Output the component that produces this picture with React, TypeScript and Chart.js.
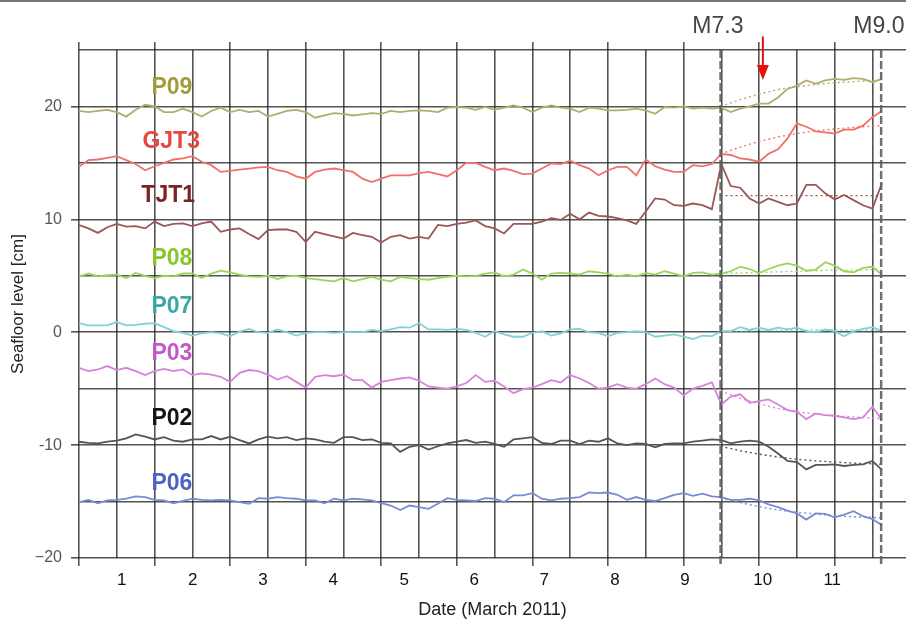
import React, { useEffect, useRef } from 'react';
import { Chart, registerables } from 'chart.js';

Chart.register(...registerables);

// ---- data (days since 1 March 2011 00:00, sampled every 3 h) ----
const SAMPLE_STEP_DAYS = 0.125;

const P09 = [
  19.6, 19.5, 19.6, 19.7, 19.5, 19.1, 19.7, 20.15, 20.0, 19.5, 19.5, 19.8, 19.5, 19.1, 19.6, 19.9, 19.5, 19.7, 19.5, 19.6, 19.1, 19.35, 19.6, 19.7, 19.5, 19.0, 19.2, 19.4, 19.35,
  19.2, 19.3, 19.4, 19.35, 19.6, 19.5, 19.6, 19.65, 19.6, 19.5, 19.9, 19.95, 19.9, 19.7, 19.95, 19.7, 19.9, 20.1, 19.9, 19.5, 19.9, 20.1, 19.9, 19.8, 19.5, 19.9, 19.8, 19.65,
  19.65, 19.7, 19.8, 19.65, 19.35, 19.95, 19.9, 20.0, 19.8, 19.9, 19.8, 19.9, 19.5, 19.8, 20.0, 20.25, 20.25, 20.8, 21.55, 21.85, 22.3, 22.0, 22.3, 22.45, 22.35, 22.5, 22.45, 22.15, 22.45,
];
const GJT3 = [
  14.65, 15.25, 15.3, 15.45, 15.6, 15.25, 14.9, 14.35, 14.7, 15.0, 15.3, 15.4, 15.6, 15.1, 14.8, 14.2, 14.3, 14.4, 14.5, 14.6, 14.65, 14.35, 14.2, 13.8, 13.6, 14.2, 14.4, 14.5, 14.35,
  14.2, 13.6, 13.3, 13.6, 13.9, 13.9, 13.9, 14.1, 14.2, 14.0, 13.8, 14.35, 15.0, 15.0, 14.65, 14.35, 14.5, 14.3, 14.0, 14.05, 14.5, 14.95, 14.9, 15.2, 14.8, 14.5, 13.9, 14.35,
  14.65, 14.65, 13.9, 15.3, 14.7, 14.4, 14.2, 14.2, 14.8, 14.7, 14.9, 15.8, 15.7, 15.4, 15.3, 15.1, 15.8, 16.2, 17.15, 18.5, 18.2, 17.8, 17.7, 17.6, 17.95, 17.95, 18.3, 19.05, 19.6,
];
const TJT1 = [
  9.5, 9.2, 8.8, 9.3, 9.6, 9.35, 9.4, 9.2, 9.8, 9.4, 9.6, 9.65, 9.4, 9.65, 9.8, 8.9, 9.1, 9.2, 8.7, 8.25, 9.05, 9.1, 9.1, 8.9, 8.0, 8.9, 8.7, 8.5, 8.3,
  8.8, 8.6, 8.45, 7.95, 8.45, 8.6, 8.3, 8.45, 8.3, 9.5, 9.4, 9.6, 9.7, 9.9, 9.4, 9.2, 8.75, 9.6, 9.6, 9.6, 9.8, 10.1, 9.95, 10.5, 10.0, 10.6, 10.3, 10.25,
  10.1, 9.9, 9.6, 10.7, 11.85, 11.75, 11.25, 11.2, 11.4, 11.25, 10.9, 14.9, 12.95, 12.8, 11.85, 11.4, 11.85, 11.55, 11.25, 11.4, 13.05, 13.05, 12.3, 11.75, 12.15, 11.7, 11.25, 10.95, 13.2,
];
const P08 = [
  4.95, 5.2, 4.95, 5.05, 5.1, 4.8, 5.25, 5.0, 4.8, 5.0, 4.95, 5.2, 5.2, 4.8, 5.2, 5.45, 5.3, 5.1, 4.95, 4.9, 5.0, 4.7, 4.95, 5.0, 4.8, 4.7, 4.6, 4.5, 4.8,
  4.5, 4.7, 4.9, 4.65, 4.5, 4.9, 4.8, 4.7, 4.65, 4.8, 4.9, 5.0, 4.95, 5.0, 5.2, 5.3, 4.95, 5.1, 5.55, 5.2, 4.65, 5.2, 5.25, 5.2, 5.1, 5.4, 5.3, 5.2,
  4.95, 5.1, 4.95, 5.25, 5.1, 5.4, 5.2, 4.95, 5.25, 5.3, 5.1, 5.2, 5.4, 5.8, 5.6, 5.25, 5.6, 5.9, 6.1, 5.9, 5.45, 5.55, 6.2, 5.9, 5.4, 5.3, 5.7, 5.8, 5.1,
];
const P07 = [
  0.8, 0.6, 0.6, 0.6, 0.9, 0.6, 0.65, 0.75, 0.8, 0.45, 0.1, -0.05, -0.3, -0.1, 0.0, -0.1, -0.35, 0.05, 0.3, 0.0, -0.05, 0.25, 0.0, -0.3, -0.05, 0.0, 0.0, -0.05, 0.0,
  0.0, 0.0, 0.2, 0.1, 0.25, 0.45, 0.4, 0.8, 0.25, 0.25, 0.2, 0.3, 0.2, -0.05, -0.4, 0.1, -0.2, -0.4, -0.4, -0.05, 0.1, -0.3, -0.1, 0.25, 0.3, 0.0, -0.05, -0.35,
  -0.05, 0.0, 0.1, 0.0, -0.4, -0.3, -0.2, -0.4, -0.6, -0.3, -0.35, 0.1, 0.1, 0.45, 0.2, 0.4, 0.2, 0.4, 0.25, 0.4, 0.1, 0.0, 0.25, 0.1, -0.35, 0.1, 0.3, 0.45, 0.1,
];
const P03 = [
  -3.15, -3.45, -3.3, -3.0, -3.35, -3.15, -3.45, -3.8, -3.45, -3.25, -3.45, -3.3, -3.8, -3.65, -3.75, -3.95, -4.4, -3.6, -3.35, -3.45, -3.75, -4.2, -3.9, -4.4, -4.9, -3.95, -3.8, -3.9, -3.75,
  -4.25, -4.25, -4.9, -4.4, -4.25, -4.1, -4.0, -4.3, -4.8, -4.9, -5.0, -4.8, -4.5, -3.8, -4.4, -4.3, -4.8, -5.4, -5.05, -4.9, -4.6, -4.25, -4.45, -3.8, -4.1, -4.5, -5.0, -4.9,
  -4.6, -4.9, -5.0, -4.6, -4.1, -4.6, -4.9, -5.6, -5.0, -4.75, -4.45, -6.4, -5.7, -5.5, -6.25, -6.1, -5.95, -6.4, -6.9, -7.05, -7.7, -7.2, -7.35, -7.4, -7.55, -7.7, -7.55, -6.6, -7.75,
];
const P02 = [
  -9.7, -9.8, -9.85, -9.7, -9.6, -9.4, -9.05, -9.25, -9.5, -9.3, -9.6, -9.7, -9.5, -9.5, -9.2, -9.5, -9.25, -9.55, -9.85, -9.5, -9.25, -9.4, -9.3, -9.55, -9.4, -9.5, -9.7, -9.8, -9.3,
  -9.3, -9.55, -9.5, -9.8, -9.85, -10.6, -10.15, -10.0, -10.4, -10.1, -9.85, -9.7, -9.55, -9.8, -9.7, -9.9, -10.15, -9.5, -9.4, -9.3, -9.8, -9.9, -9.6, -9.6, -9.9, -9.6, -9.7, -9.4,
  -9.85, -10.0, -9.85, -9.9, -10.2, -9.9, -9.85, -9.85, -9.7, -9.6, -9.5, -9.55, -9.85, -9.7, -9.6, -9.7, -10.15, -10.75, -11.4, -11.5, -12.15, -11.75, -11.75, -11.7, -11.85, -11.75, -11.7, -11.4, -12.2,
];
const P06 = [
  -15.05, -14.85, -15.15, -14.9, -14.85, -14.75, -14.55, -14.6, -14.85, -14.9, -15.15, -14.95, -14.75, -14.85, -14.9, -14.85, -14.9, -15.05, -15.2, -14.7, -14.75, -14.6, -14.7, -14.75, -14.9, -14.9, -15.15, -14.75, -14.9,
  -14.75, -14.8, -14.9, -15.15, -15.35, -15.75, -15.35, -15.5, -15.65, -15.2, -14.7, -14.85, -14.9, -14.95, -14.7, -14.75, -15.05, -14.45, -14.45, -14.25, -14.75, -14.9, -14.75, -14.7, -14.6, -14.2, -14.25, -14.2,
  -14.4, -14.85, -14.6, -14.85, -14.95, -14.7, -14.4, -14.25, -14.5, -14.3, -14.55, -14.6, -14.85, -14.85, -14.75, -14.9, -15.25, -15.5, -15.8, -16.05, -16.6, -16.05, -16.1, -16.4, -16.15, -15.85, -16.3, -16.55, -17.1,
];

// post-M7.3 fitted (dotted) curves
const FIT_TIMES = [8.49, 8.75, 9.0, 9.25, 9.5, 9.75, 10.0, 10.25, 10.5, 10.615];
const FIT_P09 = [20.0, 20.6, 21.1, 21.5, 21.75, 21.95, 22.1, 22.2, 22.3, 22.35];
const FIT_GJT3 = [15.8, 16.4, 16.9, 17.3, 17.6, 17.85, 18.0, 18.15, 18.25, 18.3];
const FIT_TJT1 = [12.1, 12.1, 12.1, 12.1, 12.1, 12.1, 12.1, 12.1, 12.1, 12.1];
const FIT_P08 = [5.2, 5.25, 5.3, 5.35, 5.4, 5.45, 5.5, 5.5, 5.55, 5.55];
const FIT_P07 = [0.1, 0.1, 0.15, 0.15, 0.15, 0.2, 0.2, 0.2, 0.2, 0.2];
const FIT_P03 = [-5.2, -5.85, -6.35, -6.75, -7.05, -7.25, -7.4, -7.5, -7.6, -7.65];
const FIT_P02 = [-10.1, -10.5, -10.8, -11.05, -11.25, -11.4, -11.5, -11.6, -11.65, -11.7];
const FIT_P06 = [-14.7, -15.1, -15.45, -15.75, -15.95, -16.1, -16.25, -16.35, -16.4, -16.45];

const STATION_NAMES = ['P09', 'GJT3', 'TJT1', 'P08', 'P07', 'P03', 'P02', 'P06'];
const LABEL_X = [1.23, 1.22, 1.18, 1.23, 1.23, 1.23, 1.23, 1.23];
const LABEL_Y = [21.63, 16.85, 12.07, 6.53, 2.28, -1.93, -7.64, -13.44];

const EVENT_TIMES = [8.49, 10.615];
const EVENT_LABELS = ['M7.3', 'M9.0'];
const EVENT_LABEL_TIME = [8.455, 10.585];
const EVENT_LABEL_Y = 26.48;
const ARROW_TIME = 9.05;
const ARROW_FROM = 26.2;
const ARROW_TO = 22.35;

const DAY_LABEL_POS = [0.565, 1.505, 2.435, 3.365, 4.305, 5.231, 6.157, 7.093, 8.019, 9.047, 9.968];
const DAY_LABELS = ['1', '2', '3', '4', '5', '6', '7', '8', '9', '10', '11'];
const Y_LABEL_VALUES = [20, 10, 0, -10, -20];
const Y_LABEL_TEXTS = ['20', '10', '0', '-10', '\u221220'];

const X_MIN = 0;
const X_MAX = 10.944;
const Y_MIN = -20;
const Y_MAX = 25;

const LINE_COLORS = ['#b2ad6e', '#f0716b', '#9b5656', '#9ad55a', '#7fd3d3', '#d585d9', '#555555', '#7a8ad3'];
const LABEL_COLORS = ['#a39c3c', '#e8473f', '#7b2424', '#86c82a', '#3aa8a8', '#c458c8', '#151515', '#4c62c4'];
const GRID = 'rgba(35,35,35,0.78)';
const FONT = '"Liberation Sans", Arial, Helvetica, sans-serif';

const SERIES = [P09, GJT3, TJT1, P08, P07, P03, P02, P06];
const FITS = [FIT_P09, FIT_GJT3, FIT_TJT1, FIT_P08, FIT_P07, FIT_P03, FIT_P02, FIT_P06];

const annotationPlugin = {
  id: 'quakeAnnotations',
  afterDatasetsDraw(chart: any) {
    const { ctx } = chart;
    const x = chart.scales.x;
    const y = chart.scales.y;
    ctx.save();
    ctx.textAlign = 'center';
    ctx.textBaseline = 'middle';
    ctx.font = `bold 23px ${FONT}`;
    STATION_NAMES.forEach((name, i) => {
      ctx.fillStyle = LABEL_COLORS[i];
      ctx.fillText(name, x.getPixelForValue(LABEL_X[i]), y.getPixelForValue(LABEL_Y[i]));
    });
    ctx.font = `23px ${FONT}`;
    ctx.fillStyle = '#454545';
    ctx.textBaseline = 'alphabetic';
    EVENT_LABELS.forEach((t, i) => {
      ctx.fillText(t, x.getPixelForValue(EVENT_LABEL_TIME[i]), y.getPixelForValue(EVENT_LABEL_Y));
    });
    // red arrow
    const ax = x.getPixelForValue(ARROW_TIME);
    const a0 = y.getPixelForValue(ARROW_FROM);
    const a1 = y.getPixelForValue(ARROW_TO);
    ctx.strokeStyle = '#e81010';
    ctx.fillStyle = '#e81010';
    ctx.lineWidth = 2;
    ctx.beginPath();
    ctx.moveTo(ax, a0);
    ctx.lineTo(ax, a1 - 12);
    ctx.stroke();
    ctx.beginPath();
    ctx.moveTo(ax - 6, a1 - 15);
    ctx.lineTo(ax + 6, a1 - 15);
    ctx.lineTo(ax, a1);
    ctx.closePath();
    ctx.fill();
    ctx.restore();
  },
};

export default function App() {
  const ref = useRef<HTMLCanvasElement>(null);

  useEffect(() => {
    const canvas = ref.current;
    if (!canvas) return;
    const times = P09.map((_, i) => i * SAMPLE_STEP_DAYS);
    const datasets: any[] = [];

    EVENT_TIMES.forEach((t) => {
      datasets.push({
        data: [
          { x: t, y: Y_MAX },
          { x: t, y: Y_MIN - 0.7 },
        ],
        borderColor: 'rgba(95,95,95,0.9)',
        borderWidth: 2.5,
        borderDash: [8, 3],
        pointRadius: 0,
        clip: false,
      });
    });

    FITS.forEach((f, i) => {
      datasets.push({
        data: f.map((v, j) => ({ x: FIT_TIMES[j], y: v })),
        borderColor: LINE_COLORS[i],
        borderWidth: 1.4,
        borderDash: [2, 3],
        pointRadius: 0,
      });
    });

    SERIES.forEach((s, i) => {
      datasets.push({
        label: STATION_NAMES[i],
        data: s.map((v, j) => ({ x: times[j], y: v })),
        borderColor: LINE_COLORS[i],
        borderWidth: 1.8,
        pointRadius: 0,
        tension: 0,
      });
    });

    const chart = new Chart(canvas, {
      type: 'line',
      data: { datasets },
      plugins: [annotationPlugin],
      options: {
        animation: false,
        responsive: false,
        devicePixelRatio: 1,
        layout: { padding: 0 },
        plugins: { legend: { display: false }, tooltip: { enabled: false } },
        scales: {
          xt: {
            type: 'linear',
            position: 'top',
            min: X_MIN,
            max: X_MAX,
            ticks: { display: false, stepSize: 1, includeBounds: false },
            grid: { drawOnChartArea: false, color: GRID, lineWidth: 1.6, tickLength: 8 },
            border: { display: false },
            afterFit: (s: any) => { s.height = 50; },
          },
          x: {
            type: 'linear',
            position: 'bottom',
            min: X_MIN,
            max: X_MAX,
            ticks: { display: false, stepSize: 0.5, includeBounds: false },
            grid: {
              color: GRID,
              lineWidth: 1.6,
              tickLength: 8,
              tickColor: (c: any) => (c.tick && Number.isInteger(c.tick.value) ? GRID : 'rgba(0,0,0,0)'),
            },
            border: { display: false },
            afterFit: (s: any) => { s.height = 10; },
          },
          xl: {
            type: 'linear',
            position: 'bottom',
            min: X_MIN,
            max: X_MAX,
            afterBuildTicks: (s: any) => { s.ticks = DAY_LABEL_POS.map((v) => ({ value: v })); },
            ticks: {
              autoSkip: false,
              maxRotation: 0,
              padding: 2,
              color: '#111',
              font: { size: 17, family: FONT },
              callback: (_v: any, i: number) => DAY_LABELS[i],
            },
            grid: { display: false, drawTicks: false },
            border: { display: false },
            title: {
              display: true,
              text: 'Date (March 2011)',
              color: '#222',
              font: { size: 18, family: FONT },
              padding: { top: 0, bottom: 0 },
            },
            afterFit: (s: any) => { s.height = 53; },
          },
          y: {
            type: 'linear',
            position: 'left',
            min: Y_MIN,
            max: Y_MAX,
            ticks: {
              stepSize: 5,
              padding: 9,
              color: '#555',
              font: { size: 16, family: FONT },
              callback: (v: any) => {
                const k = Y_LABEL_VALUES.indexOf(Number(v));
                return k >= 0 ? Y_LABEL_TEXTS[k] : '';
              },
            },
            grid: {
              color: GRID,
              lineWidth: 1.6,
              tickLength: 8,
              tickColor: (c: any) => (c.tick && Y_LABEL_VALUES.includes(c.tick.value) ? GRID : 'rgba(0,0,0,0)'),
            },
            border: { display: false },
            title: {
              display: true,
              text: 'Seafloor level [cm]',
              color: '#222',
              font: { size: 17, family: FONT },
              padding: { top: 8, bottom: 0 },
            },
            afterFit: (s: any) => { s.width = 79; },
          },
        },
      } as any,
    });
    return () => chart.destroy();
  }, []);

  return (
    <div style={{ position: 'fixed', left: 0, top: 0, width: 906, height: 621, background: '#fff', overflow: 'hidden' }}>
      <canvas ref={ref} width={906} height={621} style={{ display: 'block' }} />
      <div style={{ position: 'absolute', left: 0, top: 0, width: '100%', height: 2, background: '#777' }} />
    </div>
  );
}
